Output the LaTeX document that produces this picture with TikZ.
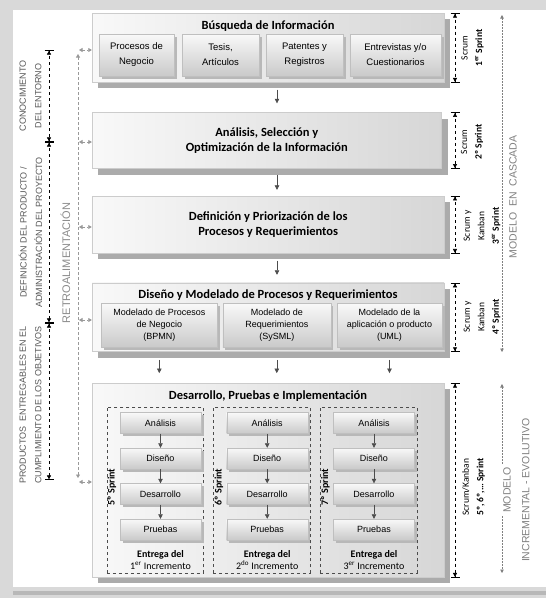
\documentclass[tikz,border=0pt]{standalone}
\usepackage{fontspec}
\setmainfont{Liberation Sans}
\newfontfamily\calibri{Carlito}
\usetikzlibrary{arrows.meta,shadows}

\begin{document}
\begin{tikzpicture}[x=1pt, y=-1pt, node distance=35.5pt,
    panelbox/.style={draw=gray!40, left color=gray!5, right color=gray!32,
        drop shadow={shadow xshift=6pt, shadow yshift=-6pt, opacity=1, fill=black!33}},
    tilebox/.style={draw=gray!50, top color=gray!5, bottom color=gray!42,
        drop shadow={shadow xshift=2.5pt, shadow yshift=-2.5pt, opacity=1, fill=black!28},
        align=center, inner sep=1pt},
    stagebox/.style={tilebox, minimum width=81pt, minimum height=21pt,
        font=\fontsize{9}{11}\selectfont},
    colbox/.style={draw=black!70, dashed, minimum width=96.5pt, minimum height=165.7pt},
    boxtitle/.style={font=\calibri\bfseries\fontsize{12.5}{15}\selectfont, align=center},
    sprintlabel/.style={rotate=90, align=center, font=\calibri\fontsize{9.5}{14.5}\selectfont},
    colsprint/.style={rotate=90, font=\calibri\bfseries\fontsize{10}{12}\selectfont},
    deliver/.style={align=center, font=\calibri\fontsize{10}{12}\selectfont},
    sidetext/.style={rotate=90, align=center, text=black!65, font=\fontsize{9}{15.4}\selectfont},
    modeltext/.style={rotate=90, text=black!50, font=\fontsize{10.5}{18}\selectfont},
    flowarrow/.style={-{Triangle[length=4.5pt,width=4.5pt]}, draw=black!70, line width=0.6pt},
    dimarrow/.style={dashed, line width=0.6pt,
        {Bar[width=9pt]Triangle[length=4pt,width=4pt]}-{Triangle[length=4pt,width=4pt]Bar[width=9pt]}},
    feedarrow/.style={densely dashed, draw=black!40, line width=0.6pt,
        {Triangle[length=3.5pt,width=4pt]}-{Triangle[length=3.5pt,width=4pt]}},
    dotarrow/.style={dash pattern=on 1.5pt off 1.5pt, draw=black!50, line width=0.6pt}]

  % frame
  \useasboundingbox (0,0) rectangle (546,598);
  \fill[gray!30] (0,0) rectangle (546,598);
  \fill[black!28] (13,591) rectangle (546,595);
  \fill[white] (12.5,10) rectangle (546,587);

  % waterfall stages
  \node[panelbox, minimum width=352pt, minimum height=69pt] (B1) at (268,47.8) {};
  \node[boxtitle] (T1) at (268,25.7) {Búsqueda de Información};
  \node[tilebox, minimum width=75pt, minimum height=42pt, font=\fontsize{9.5}{15}\selectfont]
       (Q1) at (136.5,55) {Procesos de\\Negocio};
  \node[tilebox, minimum width=77pt, minimum height=42pt, font=\fontsize{9.5}{15}\selectfont]
       (Q2) at (220.5,55) {Tesis,\\Artículos};
  \node[tilebox, minimum width=77pt, minimum height=42pt, font=\fontsize{9.5}{15}\selectfont]
       (Q3) at (304.5,55) {Patentes y\\Registros};
  \node[tilebox, minimum width=91pt, minimum height=42pt, font=\fontsize{9.5}{15}\selectfont]
       (Q4) at (395.5,55) {Entrevistas y/o\\Cuestionarios};

  \node[panelbox, boxtitle, minimum width=349.5pt, minimum height=56pt] (B2) at (266.8,140.5)
       {Análisis, Selección y\\Optimización de la Información};

  \node[panelbox, boxtitle, minimum width=352.5pt, minimum height=57.3pt] (B3) at (268.2,224.7)
       {Definición y Priorización de los\\Procesos y Requerimientos};

  \node[panelbox, minimum width=352pt, minimum height=68.7pt] (B4) at (268,317.3) {};
  \node[boxtitle] (T4) at (268,295) {Diseño y Modelado de Procesos y Requerimientos};
  \node[tilebox, minimum width=116.6pt, minimum height=44pt, font=\fontsize{9}{12}\selectfont]
       (M1) at (159.3,325.3) {Modelado de Procesos\\de Negocio\\(BPMN)};
  \node[tilebox, minimum width=108pt, minimum height=44pt, font=\fontsize{9}{12}\selectfont]
       (M2) at (276.8,325.3) {Modelado de\\Requerimientos\\(SySML)};
  \node[tilebox, minimum width=105pt, minimum height=44pt, font=\fontsize{9}{12}\selectfont]
       (M3) at (389.5,325.3) {Modelado de la\\aplicación o producto\\(UML)};

  \node[panelbox, minimum width=352pt, minimum height=194pt] (B5) at (268,480.3) {};
  \node[boxtitle] (T5) at (268,396.3) {Desarrollo, Pruebas e Implementación};

  \coordinate (ax) at (277,0);
  \draw[flowarrow, shorten <=7pt, shorten >=9pt] (B1.south -| ax) -- (B2.north -| ax);
  \draw[flowarrow, shorten <=6pt, shorten >=6pt] (B2.south -| ax) -- (B3.north -| ax);
  \draw[flowarrow, shorten <=7pt, shorten >=8pt] (B3.south -| ax) -- (B4.north -| ax);
  \draw[flowarrow, shorten <=8pt, shorten >=10pt] (B4.south -| M1) -- (B5.north -| M1);
  \draw[flowarrow, shorten <=8pt, shorten >=10pt] (B4.south -| M2) -- (B5.north -| M2);
  \draw[flowarrow, shorten <=8pt, shorten >=10pt] (B4.south -| M3) -- (B5.north -| M3);

  % increments
  \node[colbox] (K1) at (155,489.9) {};
  \node[colsprint] (C5) at (112,487) {5º Sprint};
  \node[stagebox] (An1) at (160.5,423) {Análisis};
  \node[stagebox] (Di1) [below of=An1] {Diseño};
  \node[stagebox] (De1) [below of=Di1] {Desarrollo};
  \node[stagebox] (Pr1) [below of=De1] {Pruebas};
  \node[deliver] (E1) at (160.5,560) {\textbf{Entrega del}\\1\textsuperscript{er} Incremento};
  \path (An1) edge[flowarrow] (Di1);
  \path (Di1) edge[flowarrow] (De1);
  \path (De1) edge[flowarrow] (Pr1);

  \node[colbox] (K2) at (261.7,489.9) {};
  \node[colsprint] (C6) at (219,487) {6º Sprint};
  \node[stagebox] (An2) at (267.2,423) {Análisis};
  \node[stagebox] (Di2) [below of=An2] {Diseño};
  \node[stagebox] (De2) [below of=Di2] {Desarrollo};
  \node[stagebox] (Pr2) [below of=De2] {Pruebas};
  \node[deliver] (E2) at (267.2,560) {\textbf{Entrega del}\\2\textsuperscript{do} Incremento};
  \path (An2) edge[flowarrow] (Di2);
  \path (Di2) edge[flowarrow] (De2);
  \path (De2) edge[flowarrow] (Pr2);

  \node[colbox] (K3) at (368.5,489.9) {};
  \node[colsprint] (C7) at (325.5,487) {7º Sprint};
  \node[stagebox] (An3) at (374,423) {Análisis};
  \node[stagebox] (Di3) [below of=An3] {Diseño};
  \node[stagebox] (De3) [below of=Di3] {Desarrollo};
  \node[stagebox] (Pr3) [below of=De3] {Pruebas};
  \node[deliver] (E3) at (374,560) {\textbf{Entrega del}\\3\textsuperscript{er} Incremento};
  \path (An3) edge[flowarrow] (Di3);
  \path (Di3) edge[flowarrow] (De3);
  \path (De3) edge[flowarrow] (Pr3);

  % sprints on the right
  \coordinate (dx) at (455,0);
  \draw[dimarrow] (B1.north -| dx) -- (B1.south -| dx);
  \draw[dimarrow] (B2.north -| dx) -- (B2.south -| dx);
  \draw[dimarrow] (B3.north -| dx) -- (B3.south -| dx);
  \draw[dimarrow] (B4.north -| dx) -- (B4.south -| dx);
  \draw[dimarrow] (B5.north -| dx) -- (B5.south -| dx);
  \node[sprintlabel] (R1) at (472.5,48) {Scrum\\\textbf{1\textsuperscript{er} Sprint}};
  \node[sprintlabel] (R2) at (472,142) {Scrum\\\textbf{2º Sprint}};
  \node[sprintlabel] (R3) at (482,226) {Scrum y\\Kanban\\\textbf{3\textsuperscript{er} Sprint}};
  \node[sprintlabel] (R4) at (482,317) {Scrum y\\Kanban\\\textbf{4º Sprint}};
  \node[sprintlabel] (R5) at (473.5,487) {Scrum/Kanban\\\textbf{5º, 6º,… Sprint}};

  % models
  \coordinate (c1) at (502,15);
  \coordinate (c2) at (502,352);
  \draw[dotarrow, {Triangle[length=3.5pt,width=3.5pt]}-{Triangle[length=3.5pt,width=3.5pt]}] (c1) -- (c2);
  \node[modeltext] (MC) at (513,197) {MODELO\ \ EN\ \ CASCADA};
  \coordinate (c3) at (502,384);
  \coordinate (c4) at (502,573);
  \node[modeltext] (MI) at (507,490) {MODELO};
  \node[modeltext] (IE) at (525.8,490) {INCREMENTAL - EVOLUTIVO};
  \draw[dotarrow, {Triangle[length=3.5pt,width=3.5pt]}-] (c3) -- (c3 |- MI.east);
  \draw[dotarrow, -{Triangle[length=3.5pt,width=3.5pt]}] (c3 |- MI.west) -- (c4);

  % phases on the left
  \coordinate (t1) at (49,50);
  \coordinate (t2) at (49,142);
  \coordinate (t3) at (49,323);
  \coordinate (t4) at (49,480);
  \draw[dimarrow] (t1) -- (t2);
  \draw[dimarrow] (t2) -- (t3);
  \draw[dimarrow] (t3) -- (t4);
  \node[sidetext] (LT1) at (30.5,96) {CONOCIMIENTO\\DEL ENTORNO};
  \node[sidetext] (LT2) at (30.5,232.5) {DEFINICIÓN DEL PRODUCTO /\\ADMINISTRACIÓN DEL PROYECTO};
  \node[sidetext] (LT3) at (30.5,405) {PRODUCTOS\ \ ENTREGABLES EN EL\\CUMPLIMIENTO DE LOS OBJETIVOS};

  % feedback
  \coordinate (f0) at (78,54);
  \coordinate (f6) at (78,478);
  \draw[feedarrow] (f0) -- (f6);
  \node[rotate=90, text=black!45, font=\fontsize{11}{13}\selectfont] (RF) at (65.5,263) {RETROALIMENTACIÓN};
  \coordinate (f1) at (79,50);
  \coordinate (f2) at (79,142);
  \coordinate (f3) at (79,227);
  \coordinate (f4) at (79,320);
  \coordinate (f5) at (79,482);
  \draw[feedarrow] (f1) -- (f1 -| B1.west);
  \draw[feedarrow] (f2) -- (f2 -| B2.west);
  \draw[feedarrow] (f3) -- (f3 -| B3.west);
  \draw[feedarrow] (f4) -- (f4 -| B4.west);
  \draw[feedarrow] (f5) -- (f5 -| B5.west);
\end{tikzpicture}
\end{document}
